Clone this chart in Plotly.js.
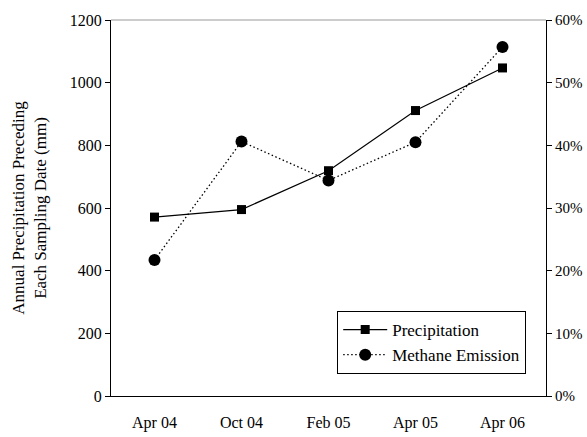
<!DOCTYPE html>
<html>
<head>
<meta charset="utf-8">
<script src="https://cdn.plot.ly/plotly-3.0.1.min.js"></script>
<style>html,body{margin:0;padding:0;background:#fff;}#chart{width:587px;height:437px;}</style>
</head>
<body>
<div id="chart"></div>
<script>
const categories = ["Apr 04", "Oct 04", "Feb 05", "Apr 05", "Apr 06"];
const precipitation = [571, 595, 719, 911, 1047];
const methanePct = [21.7, 40.6, 34.4, 40.5, 55.7];
const leftTicks = [0, 200, 400, 600, 800, 1000, 1200];
const rightTicks = [0, 10, 20, 30, 40, 50, 60];
const rightTickLabels = rightTicks.map(v => v + "%");

const FAM = "'Liberation Serif', 'Times New Roman', Times, serif";
function f(size) { return {family: FAM, size: size, color: "#000"}; }

const traces = [
  {
    x: categories, y: precipitation, name: "Precipitation",
    type: "scatter", mode: "lines+markers",
    line: {color: "#000", width: 1.2},
    marker: {symbol: "square", size: 9, color: "#000"},
    yaxis: "y"
  },
  {
    x: categories, y: methanePct, name: "Methane Emission",
    type: "scatter", mode: "lines+markers",
    line: {color: "#000", width: 1.3, dash: "1.5px,2.5px"},
    marker: {symbol: "circle", size: 12, color: "#000"},
    yaxis: "y2"
  }
];

const layout = {
  width: 587, height: 437,
  margin: {l: 111, r: 41, t: 20, b: 41},
  paper_bgcolor: "#fff", plot_bgcolor: "#fff",
  font: f(14),
  showlegend: true,
  legend: {
    x: 0.52, y: 0.226, xanchor: "left", yanchor: "top",
    bordercolor: "#000", borderwidth: 1, bgcolor: "#fff",
    font: f(17),
    itemwidth: 44
  },
  xaxis: {
    type: "category", categoryorder: "array", categoryarray: categories,
    range: [-0.5, 4.5],
    showline: true, linecolor: "#000", linewidth: 1,
    ticks: "outside", ticklen: 12, tickcolor: "rgba(255,255,255,0)",
    showgrid: false, zeroline: false,
    tickfont: f(16)
  },
  yaxis: {
    range: [0, 1200], tickvals: leftTicks,
    showline: true, linecolor: "#000", linewidth: 1,
    ticks: "outside", ticklen: 5, tickcolor: "#000",
    showgrid: false, zeroline: false,
    tickfont: f(16),
    title: {text: "Annual Precipitation Preceding<br>Each Sampling Date (mm)", font: f(17), standoff: 18}
  },
  yaxis2: {
    overlaying: "y", side: "right",
    range: [0, 60], tickvals: rightTicks, ticktext: rightTickLabels,
    showline: true, linecolor: "#000", linewidth: 1,
    ticks: "outside", ticklen: 5, tickcolor: "#000",
    showgrid: false, zeroline: false,
    tickfont: f(15)
  },
  shapes: [
    {type: "line", xref: "paper", yref: "paper", x0: 0, x1: 1, y0: 1, y1: 1, line: {color: "#999", width: 1}}
  ]
};

Plotly.newPlot("chart", traces, layout, {displayModeBar: false, staticPlot: true});
</script>
</body>
</html>
